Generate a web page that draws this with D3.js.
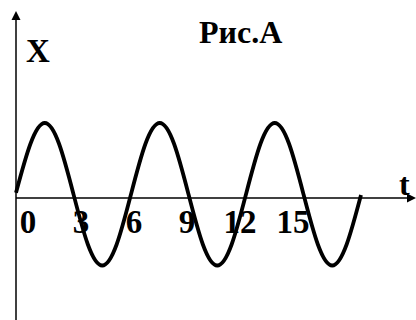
<!DOCTYPE html>
<html>
<head>
<meta charset="utf-8">
<script src="https://cdn.jsdelivr.net/npm/d3@7"></script>
<style>
  html, body { margin: 0; padding: 0; background: #fff; }
  svg { display: block; }
  text { font-family: "Liberation Serif", "Times New Roman", serif; font-weight: bold; fill: #000; }
</style>
</head>
<body>
<div id="chart"></div>
<script>
// ---- data ----
const title = "Рис.А";
const yLabel = "X";
const xLabel = "t";
// curve sample points (t, X) at every eighth of a period
const tValues = [0, 0.75, 1.5, 2.25, 3, 3.75, 4.5, 5.25,
                 6, 6.75, 7.5, 8.25, 9, 9.75, 10.5, 11.25,
                 12, 12.75, 13.5, 14.25, 15, 15.75, 16.5, 17.25, 18];
const xValues = [0.07, 0.72, 1.0, 0.72, 0.05, -0.62, -0.9, -0.62,
                 0.05, 0.72, 1.0, 0.72, 0.05, -0.62, -0.9, -0.62,
                 0.05, 0.72, 1.0, 0.72, 0.05, -0.62, -0.9, -0.62, 0.04];
const tickValues = [0, 3, 6, 9, 12, 15];
const tickLabels = ["0", "3", "6", "9", "12", "15"];

// ---- drawing ----
const W = 416, H = 320;
const originX = 16, axisY = 198;
const svg = d3.select("#chart").append("svg").attr("width", W).attr("height", H);

const x = d3.scaleLinear().domain([0, 18]).range([originX, 361]);
const y = d3.scaleLinear().domain([0, 1]).range([axisY, 123]);
const tickScale = d3.scaleLinear().domain([0, 15]).range([27.5, 292.5]);

// axes lines
svg.append("line").attr("x1", originX).attr("x2", originX).attr("y1", 18).attr("y2", H)
  .attr("stroke", "#000").attr("stroke-width", 1.5);
svg.append("path").attr("d", `M${originX - 4.5},20 L${originX},11 L${originX + 4.5},20 Z`).attr("fill", "#000");

svg.append("line").attr("x1", originX).attr("x2", 409).attr("y1", axisY).attr("y2", axisY)
  .attr("stroke", "#000").attr("stroke-width", 1.5);
svg.append("path").attr("d", `M407,${axisY - 4.5} L416,${axisY} L407,${axisY + 4.5} Z`).attr("fill", "#000");

// tick labels via axis generator
const axis = d3.axisBottom(tickScale).tickValues(tickValues)
  .tickFormat((d, i) => tickLabels[i]).tickSize(0).tickPadding(0);
const gAxis = svg.append("g").attr("transform", `translate(0,${axisY})`).call(axis);
gAxis.select(".domain").remove();
gAxis.selectAll("text")
  .attr("dy", null).attr("y", 35)
  .style("font-family", '"Liberation Serif", "Times New Roman", serif')
  .style("font-weight", "bold").style("font-size", "33px").attr("fill", "#000");

// curve
const pts = tValues.map((t, i) => [t, xValues[i]]);
const line = d3.line().x(d => x(d[0])).y(d => y(d[1])).curve(d3.curveNatural);
svg.append("path").datum(pts).attr("d", line)
  .attr("fill", "none").attr("stroke", "#000").attr("stroke-width", 3.8)
  .attr("stroke-linejoin", "round");

// labels
svg.append("text").attr("x", 199).attr("y", 43).style("font-size", "32px").text(title);
svg.append("text").attr("x", 26).attr("y", 62).style("font-size", "33px").text(yLabel);
svg.append("text").attr("x", 399).attr("y", 195).style("font-size", "32px").text(xLabel);
</script>
</body>
</html>
